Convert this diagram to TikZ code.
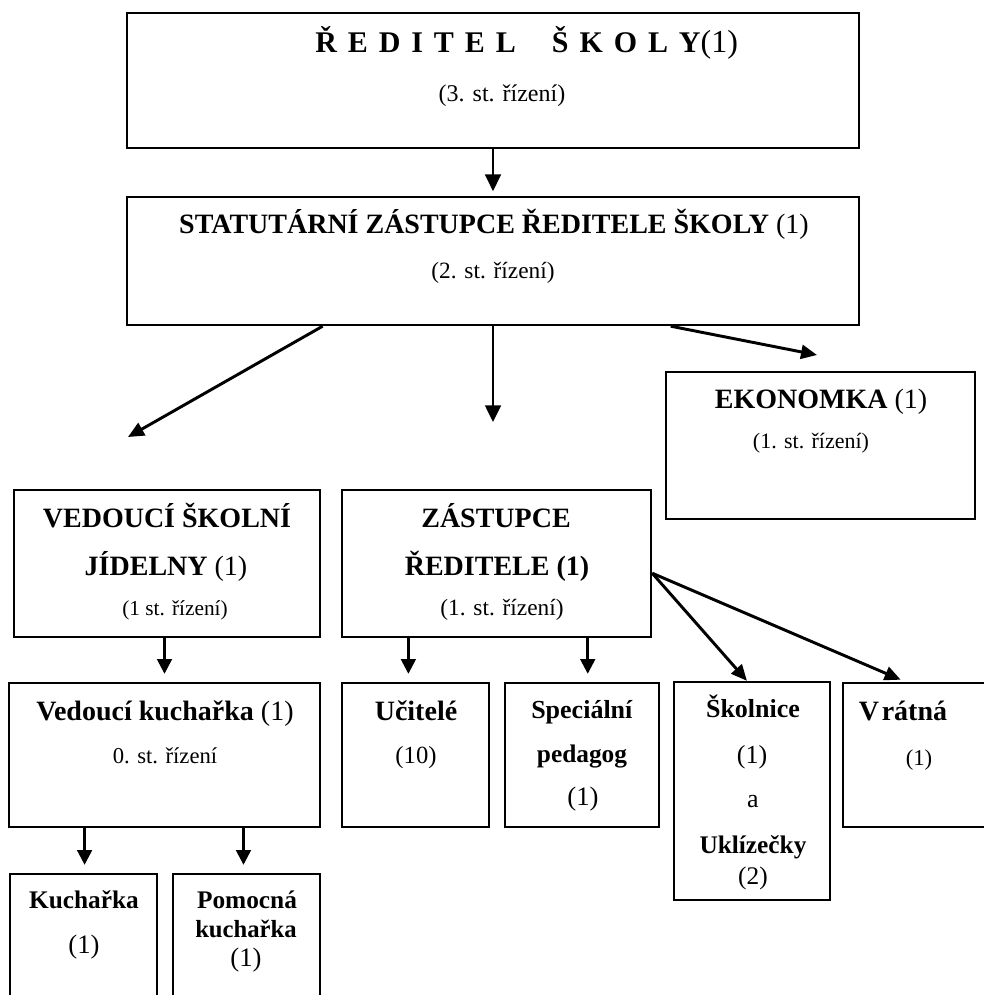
\documentclass[tikz,border=0pt]{standalone}
\usepackage{fontspec}
\setmainfont{Liberation Serif}
\usetikzlibrary{arrows.meta,fit,calc}
\newcommand\fs[1]{\fontsize{#1}{#1}\selectfont}
\newcommand\lsp{\hspace{8.2pt}}
\begin{document}
\begin{tikzpicture}[x=0.75pt,y=-0.75pt,
  box/.style={draw=black, line width=1.8pt, inner sep=0pt, fill=none},
  lbl/.style={inner sep=0pt, anchor=base},
  thinarrow/.style={draw=black, line width=1.1pt, -{Triangle[length=12.5pt,width=12pt]}},
  varrow/.style={draw=black, line width=1.9pt, -{Triangle[length=11pt,width=11pt]}},
  darrow/.style={draw=black, line width=2.2pt, -{Triangle[length=12pt,width=10.5pt]}}]
\useasboundingbox (0,0) rectangle (984,995);
\clip (0,0) rectangle (984,995);
\fill[white] (0,0) rectangle (984,995);

% boxes
\node[box, fit={(127,13) (859,148)}] (b1) {};
\node[box, fit={(127,197) (859,325)}] (b2) {};
\node[box, fit={(666,372) (975,519)}] (eko) {};
\node[box, fit={(14,490) (320,637)}] (vsj) {};
\node[box, fit={(342,490) (651,637)}] (zr) {};
\node[box, fit={(9,683) (320,827)}] (vk) {};
\node[box, fit={(342,683) (489,827)}] (uc) {};
\node[box, fit={(505,683) (659,827)}] (sp) {};
\node[box, fit={(674,682) (830,900)}] (sk) {};
\node[box, fit={(843,683) (1000,827)}] (vr) {};
\node[box, fit={(10,874) (157,1010)}] (ku) {};
\node[box, fit={(173,874) (320,1010)}] (po) {};

% texts
\node[lbl, anchor=base west] (t1a) at (315,53) {\fs{22.5}\bfseries Ř\lsp E\lsp D\lsp I\lsp T\lsp E\lsp L\hspace{27pt}Š\lsp K\lsp O\lsp L\lsp Y\mdseries\fs{24}(1)};
\node[lbl] (t1b) at (502,102) {\fs{18}(3. st. řízení)};
\node[lbl] (t2a) at (494,233) {\fs{21}\textbf{STATUTÁRNÍ ZÁSTUPCE ŘEDITELE ŠKOLY} (1)};
\node[lbl] (t2b) at (493,278) {\fs{17.5}(2. st. řízení)};
\node[lbl] (tea) at (821,408) {\fs{21}\textbf{EKONOMKA} (1)};
\node[lbl] (teb) at (811,448) {\fs{16.5}(1. st. řízení)};
\node[lbl] (tva) at (167,527) {\fs{21}\textbf{VEDOUCÍ ŠKOLNÍ}};
\node[lbl] (tvb) at (166,575) {\fs{21}\textbf{JÍDELNY} (1)};
\node[lbl] (tvc) at (175,615) {\fs{16}(1 st. řízení)};
\node[lbl] (tza) at (496,527) {\fs{21}\textbf{ZÁSTUPCE}};
\node[lbl] (tzb) at (497,575) {\fs{21}\textbf{ŘEDITELE (1)}};
\node[lbl] (tzc) at (502,615) {\fs{17.5}(1. st. řízení)};
\node[lbl] (tka) at (165,720) {\fs{21}\textbf{Vedoucí kuchařka} (1)};
\node[lbl] (tkb) at (165,763) {\fs{17}0. st. řízení};
\node[lbl] (tua) at (416,720) {\fs{21}\textbf{Učitelé}};
\node[lbl] (tub) at (416,763) {\fs{18.5}(10)};
\node[lbl] (tsa) at (582,718) {\fs{19.5}\textbf{Speciální}};
\node[lbl] (tsb) at (582,762) {\fs{19}\textbf{pedagog}};
\node[lbl] (tsc) at (583,805) {\fs{20}(1)};
\node[lbl] (tla) at (753,717) {\fs{19.5}\textbf{Školnice}};
\node[lbl] (tlb) at (752,763) {\fs{19.5}(1)};
\node[lbl] (tlc) at (753,807) {\fs{19.5}a};
\node[lbl] (tld) at (753,853) {\fs{19}\textbf{Uklízečky}};
\node[lbl] (tle) at (753,884) {\fs{19}(2)};
\node[lbl] (tra) at (903,720) {\fs{21}\textbf{V\hspace{2pt}rátná}};
\node[lbl] (trb) at (919,765) {\fs{17}(1)};
\node[lbl] (tqa) at (84,908) {\fs{19}\textbf{Kuchařka}};
\node[lbl] (tqb) at (84,953) {\fs{20}(1)};
\node[lbl] (tpa) at (247,908) {\fs{19}\textbf{Pomocná}};
\node[lbl] (tpb) at (246,937) {\fs{18.5}\textbf{kuchařka}};
\node[lbl] (tpc) at (246,966) {\fs{20}(1)};

% free arrow ends
\coordinate (e1) at (128,437);
\coordinate (e2) at (493,422);
\coordinate (e3) at (817,355);

% connectors
\draw[thinarrow, shorten >=3.5pt] (b1.south) -- (b2.north);
\draw[darrow] ($(b2.south west)!0.268!(b2.south east)$) -- (e1);
\draw[thinarrow] (b2.south) -- (e2);
\draw[darrow] ($(b2.south west)!0.742!(b2.south east)$) -- (e3);
\draw[varrow, shorten >=6pt] (vsj.south -| vk.north) -- (vk.north);
\draw[varrow, shorten >=6pt] ($(zr.south west)!0.217!(zr.south east)$) coordinate (z1) -- (z1 |- uc.north);
\draw[varrow, shorten >=6pt] ($(zr.south west)!0.793!(zr.south east)$) coordinate (z2) -- (z2 |- sp.north);
\draw[darrow] ($(zr.north east)!0.565!(zr.south east)$) -- ($(sk.north west)!0.468!(sk.north east)$);
\draw[darrow, shorten >=4pt] ($(zr.north east)!0.565!(zr.south east)$) -- ($(vr.north west)!0.40!(vr.north east)$);
\draw[varrow, shorten >=6pt] ($(vk.south west)!0.245!(vk.south east)$) coordinate (k1) -- (k1 |- ku.north);
\draw[varrow, shorten >=6pt] ($(vk.south west)!0.752!(vk.south east)$) coordinate (k2) -- (k2 |- po.north);
\end{tikzpicture}
\end{document}
